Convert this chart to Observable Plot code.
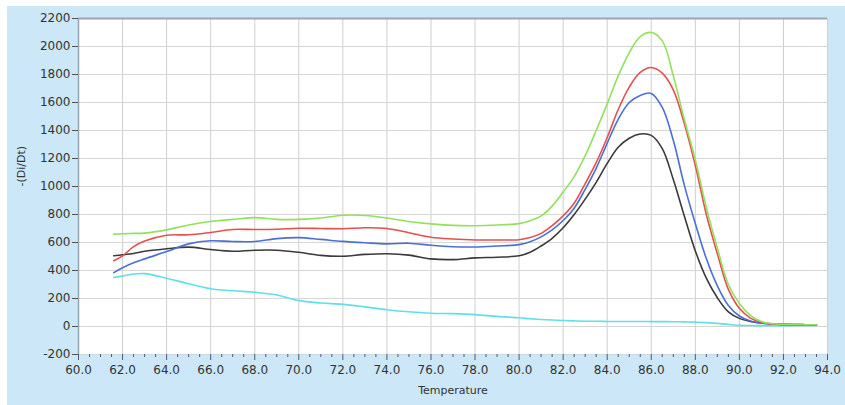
<!DOCTYPE html>
<html>
<head>
<meta charset="utf-8">
<script src="https://cdn.jsdelivr.net/npm/d3@7"></script>
<script src="https://cdn.jsdelivr.net/npm/@observablehq/plot@0.6"></script>
<style>
  html, body { margin: 0; padding: 0; background: #ffffff; }
  #wrap { padding: 6px 0 0 7px; width: 838px; height: 399px; }
  svg { display: block; }
</style>
</head>
<body>
<div id="wrap"></div>
<script>
// Temperature (°C) sample points
const temps = [61.6, 62.0, 62.5, 63.0, 64, 65, 66, 67, 68, 69, 70, 71, 72, 73, 74, 75, 76, 77, 78, 79, 80,
  80.5, 81, 81.5, 82, 82.5, 83, 83.5, 84, 84.5, 85, 85.5, 86, 86.5, 87, 87.5, 88, 88.5, 89, 89.5, 90, 90.5, 91, 91.5, 92, 92.5, 93, 93.5];

// -(Di/Dt) per curve
const greenVals = [660, 662, 665, 667, 690, 725, 750, 765, 778, 765, 765, 775, 795, 793, 775, 750, 733, 722, 720, 725, 735,
  755, 790, 860, 960, 1070, 1220, 1400, 1590, 1790, 1955, 2070, 2100, 2040, 1790, 1480, 1190, 850, 560, 300, 165, 80, 35, 20, 15, 14, 13, 12];
const redVals = [470, 505, 570, 610, 652, 655, 672, 693, 693, 695, 702, 700, 698, 705, 700, 670, 638, 625, 618, 618, 620,
  635, 665, 720, 790, 880, 1020, 1170, 1350, 1550, 1710, 1815, 1850, 1810, 1690, 1450, 1150, 800, 520, 265, 130, 60, 30, 18, 14, 13, 12, 12];
const blueVals = [385, 420, 455, 483, 535, 590, 612, 607, 607, 628, 635, 622, 608, 598, 590, 595, 580, 570, 568, 575, 585,
  605, 640, 690, 757, 845, 980, 1130, 1310, 1480, 1600, 1650, 1665, 1565, 1330, 1010, 735, 485, 290, 150, 75, 40, 25, 18, 15, 14, 13, 13];
const blackVals = [505, 512, 522, 538, 555, 567, 550, 538, 545, 545, 530, 508, 502, 515, 520, 510, 483, 478, 490, 495, 505,
  530, 575, 630, 705, 800, 910, 1030, 1165, 1280, 1345, 1375, 1365, 1270, 1050, 790, 540, 345, 205, 105, 58, 36, 25, 18, 15, 14, 13, 13];
const cyanVals = [350, 360, 375, 378, 345, 305, 270, 255, 245, 225, 185, 168, 158, 140, 120, 105, 95, 92, 85, 72, 62,
  55, 50, 46, 43, 40, 38, 37, 36, 36, 36, 36, 35, 35, 34, 33, 31, 28, 22, 15, 8, 7, 6, 6, 6, 7, 8, 8];

const xTicks = d3.range(60, 94.01, 2);
const xMinorTicks = d3.range(60, 94.01, 0.5).filter(t => Math.abs(t / 2 - Math.round(t / 2)) > 1e-9);
const yTicks = d3.range(-200, 2200.1, 200);

const seriesList = [
  {values: cyanVals, color: "#5fe0e6"},
  {values: blackVals, color: "#3a3a3a"},
  {values: blueVals, color: "#4a6fd6"},
  {values: redVals, color: "#e6504c"},
  {values: greenVals, color: "#92e05e"}
];

const toRows = vals => temps.map((t, i) => ({t, v: vals[i]}));

const fontFamily = "'DejaVu Sans', sans-serif";

const chart = Plot.plot({
  width: 838,
  height: 399,
  marginLeft: 71,
  marginTop: 12,
  marginRight: 18,
  marginBottom: 51,
  style: {background: "#cbe7f8", fontFamily, fontSize: "12px", color: "#333"},
  x: {domain: [60, 94]},
  y: {domain: [-200, 2200]},
  marks: [
    Plot.frame({fill: "white", stroke: null}),
    Plot.gridX(xTicks, {stroke: "#cfcfcf", strokeOpacity: 1}),
    Plot.gridY(yTicks, {stroke: "#d6d6d6", strokeOpacity: 1}),
    Plot.ruleY([2200], {stroke: "#9ea6ae", strokeWidth: 2}),
    Plot.ruleX([60], {stroke: "#93a6b8", strokeWidth: 1.5}),
    Plot.axisY(yTicks, {tickSize: 6, tickPadding: 2, label: null, tickFormat: d => String(d), fontSize: 12, stroke: "#555", fill: "#333"}),
    Plot.axisX(xTicks, {tickSize: 6, tickPadding: 5, label: null, tickFormat: d3.format(".1f"), fontSize: 12, stroke: "#4a5a80", fill: "#333"}),
    Plot.axisX(xMinorTicks, {tickSize: 3, tickFormat: () => "", label: null, stroke: "#4a5a80"}),
    ...seriesList.map(s => Plot.line(toRows(s.values), {x: "t", y: "v", stroke: s.color, strokeWidth: 1.6, curve: "catmull-rom"})),
    Plot.text(["-(Di/Dt)"], {frameAnchor: "left", dx: -57, rotate: -90, fontSize: 11, fill: "#333"}),
    Plot.text(["Temperature"], {frameAnchor: "bottom", dy: 39, fontSize: 11, fill: "#333"})
  ]
});

document.getElementById("wrap").append(chart);
</script>
</body>
</html>
